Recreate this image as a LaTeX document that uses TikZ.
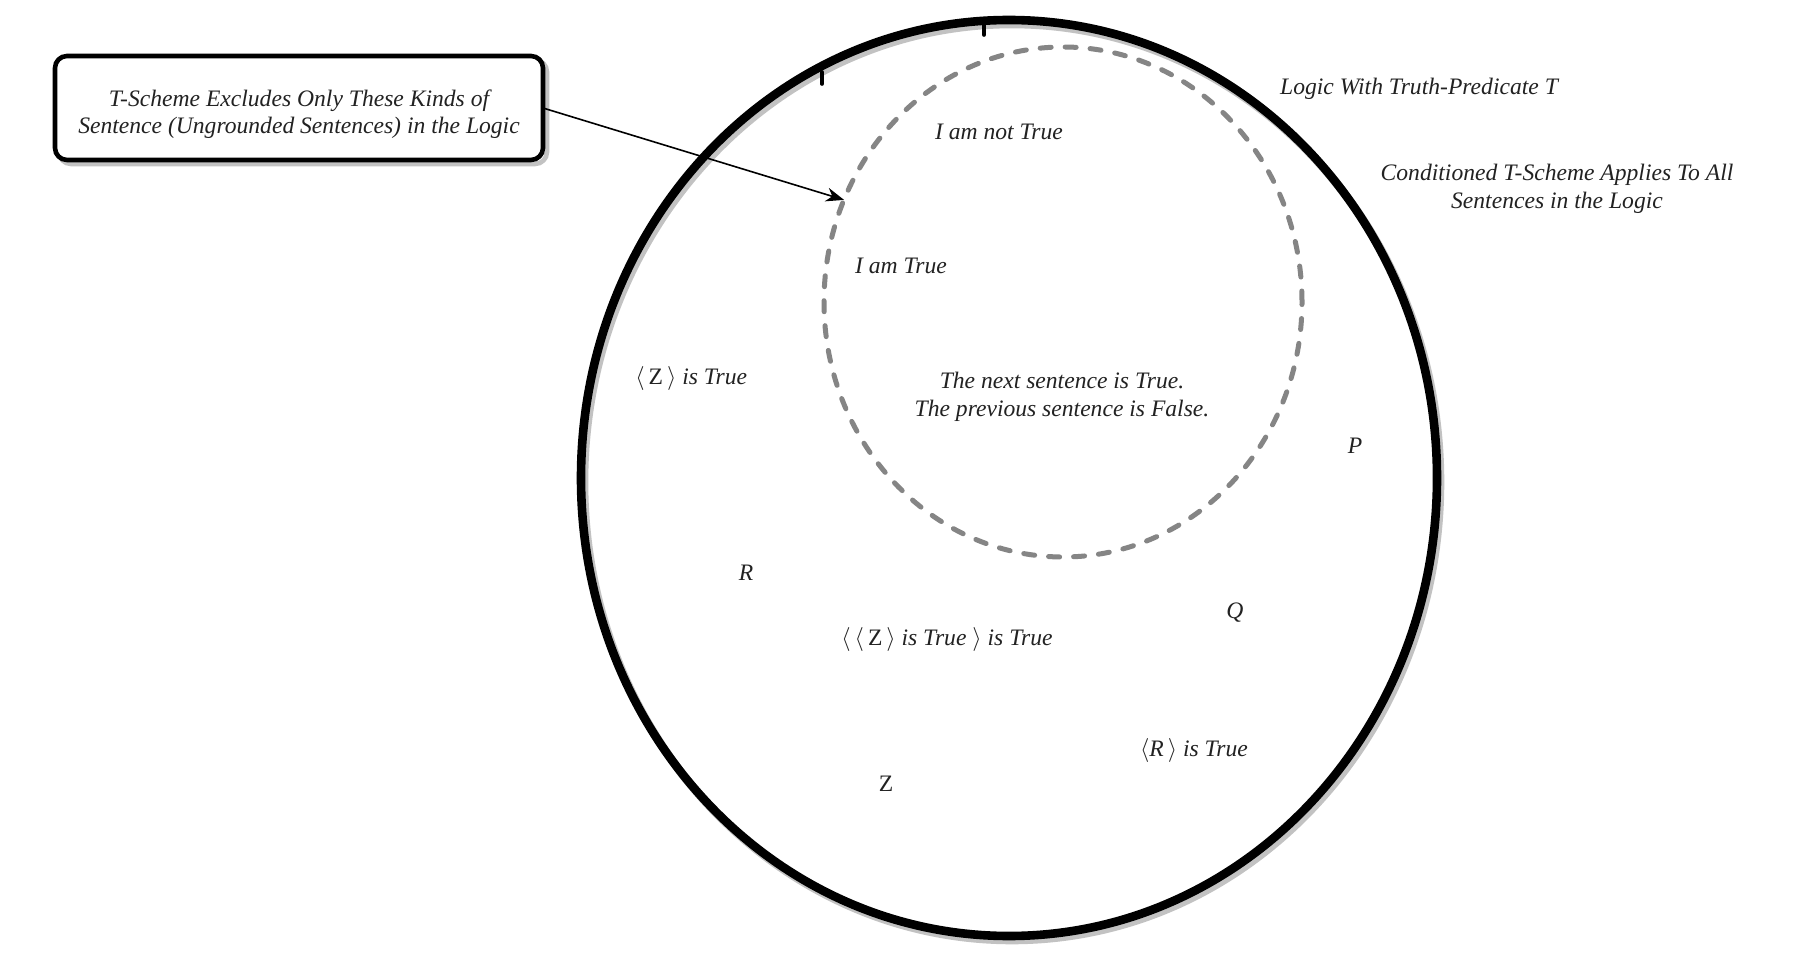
\documentclass[tikz,border=0pt]{standalone}
\usepackage{fontspec}
\setmainfont{Liberation Serif}
\usetikzlibrary{shapes.geometric,arrows.meta}
\definecolor{txt}{HTML}{222222}
\definecolor{dashgray}{HTML}{858585}
\definecolor{shadowgray}{HTML}{C2C2C2}
\begin{document}
\begin{tikzpicture}[x=0.5pt,y=-0.5pt,
  lbl/.style={font=\fontsize{11.8}{14.2}\selectfont\itshape, text=txt, inner sep=0pt, align=center},
  bigring/.style={ellipse, draw=black, line width=4.3pt, minimum width=428pt, minimum height=458pt, inner sep=0pt, outer sep=0pt,
     preaction={draw=shadowgray, transform canvas={xshift=1.5pt,yshift=-2pt}}},
  dashring/.style={ellipse, draw=dashgray, line width=2.5pt, line cap=round, dash pattern=on 5.5pt off 7pt, minimum width=239pt, minimum height=255pt, inner sep=0pt, outer sep=0pt},
  notebox/.style={rectangle, rounded corners=6pt, draw=black, line width=2.3pt, minimum width=244pt, minimum height=52pt, inner sep=0pt, outer sep=0pt, fill=white,
     preaction={draw=shadowgray, transform canvas={xshift=2pt,yshift=-2pt}}},
  notetxt/.style={font=\fontsize{11.8}{13.6}\selectfont\itshape, text=txt, align=center, inner sep=0pt},
  tick/.style={black, line width=1.8pt, line cap=round},
  arr/.style={-{Stealth[length=9pt,width=7pt]}, line width=0.8pt, black}
]
\useasboundingbox[fill=white] (0,0) rectangle (1800,962);

\node[bigring] (logic) at (1009,478) {};
\draw[tick] (822,72) -- (822,84);
\draw[tick] (984,24) -- (984,35);
\node[dashring] (inner) at (1063,302) {};

\node[notebox] (note) at (299,108) {};
\node[notetxt] (notetext) at (299,114) {T-Scheme Excludes Only These Kinds of\\Sentence (Ungrounded Sentences) in the Logic};
\draw[arr] (note.east) -- (inner.155);

\node[lbl] (logiclbl) at (1419,89) {Logic With Truth-Predicate T};
\node[lbl] (condlbl) at (1557,189) {Conditioned T-Scheme Applies To All\\Sentences in the Logic};

\node[lbl] (notTrue) at (999,132) {I am not True};
\node[lbl] (amTrue) at (901,266) {I am True};
\node[lbl, anchor=west] (zTrue) at (635,379) {$\langle$\,{\upshape Z}\,$\rangle$ is True};
\node[lbl] (liar) at (1062,397) {The next sentence is True.\\The previous sentence is False.};
\node[lbl] (P) at (1355,446) {P};
\node[lbl] (R) at (746,573) {R};
\node[lbl] (Q) at (1235,613) {Q};
\node[lbl, anchor=west] (zzTrue) at (841,640) {$\langle\,\langle$\,{\upshape Z}\,$\rangle$ is True $\rangle$ is True};
\node[lbl] (rTrue) at (1194,750) {$\langle$R\,$\rangle$ is True};
\node[lbl] (Z) at (886,784) {\upshape Z};
\end{tikzpicture}
\end{document}
